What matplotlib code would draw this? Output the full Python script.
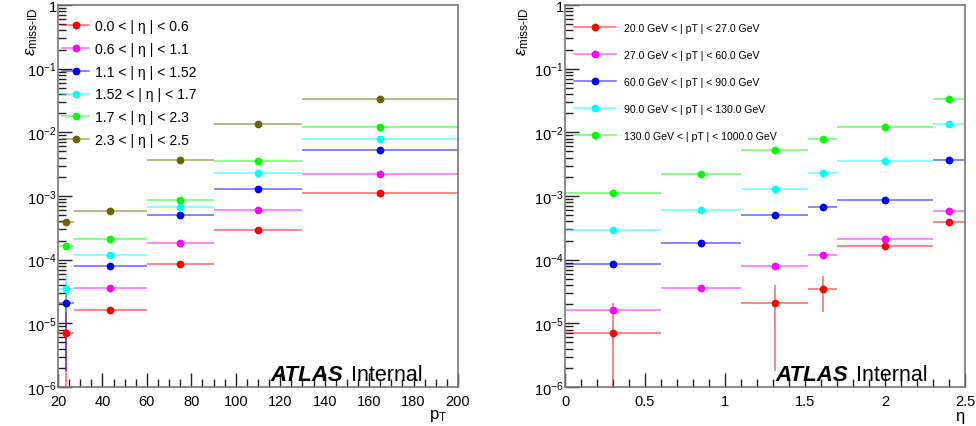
#!/usr/bin/env python3
"""miss-ID efficiency vs pT (eta slices) and vs eta (pT slices)."""
import numpy as np
import matplotlib

matplotlib.use("Agg")
import matplotlib.pyplot as plt
from matplotlib.lines import Line2D
from matplotlib.ticker import FixedLocator, FuncFormatter, LogLocator, NullFormatter

plt.rcParams["font.family"] = ["Liberation Sans", "DejaVu Sans"]
plt.rcParams["mathtext.fontset"] = "custom"
plt.rcParams["mathtext.rm"] = "Liberation Sans"
plt.rcParams["mathtext.it"] = "Liberation Sans:italic"
plt.rcParams["mathtext.bf"] = "Liberation Sans:bold"

pt_edges = [20, 27, 60, 90, 130, 200]
eta_edges = [0.0, 0.6, 1.1, 1.52, 1.7, 2.3, 2.5]

eta_labels = ["0.0 < | η | < 0.6", "0.6 < | η | < 1.1", "1.1 < | η | < 1.52",
              "1.52 < | η | < 1.7", "1.7 < | η | < 2.3", "2.3 < | η | < 2.5"]
pt_labels = ["20.0 GeV < | pT | < 27.0 GeV", "27.0 GeV < | pT | < 60.0 GeV",
             "60.0 GeV < | pT | < 90.0 GeV", "90.0 GeV < | pT | < 130.0 GeV",
             "130.0 GeV < | pT | < 1000.0 GeV"]

# rows: eta bins, cols: pT bins
nan = np.nan
eff = np.array([
    [7.0e-6, 1.6e-5, 8.7e-5, 2.9e-4, 1.13e-3],
    [nan, 3.56e-5, 1.82e-4, 6.0e-4, 2.19e-3],
    [2.08e-5, 7.9e-5, 5.1e-4, 1.3e-3, 5.2e-3],
    [3.5e-5, 1.17e-4, 6.6e-4, 2.3e-3, 8.0e-3],
    [1.63e-4, 2.13e-4, 8.6e-4, 3.5e-3, 1.23e-2],
    [3.9e-4, 5.8e-4, 3.7e-3, 1.33e-2, 3.3e-2],
])
err_lo = np.array([
    [6.95e-6, 0, 0, 0, 0],
    [0, 0, 0, 0, 0],
    [1.9e-5, 0, 0, 0, 0],
    [2.0e-5, 0, 0, 0, 0],
    [0, 0, 0, 0, 0],
    [0, 0, 0, 0, 0],
])
err_hi = np.array([
    [1.4e-5, 0, 0, 0, 0],
    [0, 0, 0, 0, 0],
    [1.9e-5, 0, 0, 0, 0],
    [2.0e-5, 0, 0, 0, 0],
    [0, 0, 0, 0, 0],
    [0, 0, 0, 0, 0],
])

colors = ["#ff0000", "#ff00ff", "#0000ff", "#00ffff", "#00ff00", "#666600"]


def draw(ax, edges, vals, lo, hi, color):
    edges = np.asarray(edges, float)
    xc = 0.5 * (edges[1:] + edges[:-1])
    xw = 0.5 * (edges[1:] - edges[:-1])
    ok = ~np.isnan(vals)
    ax.errorbar(xc[ok], vals[ok], xerr=xw[ok], yerr=[lo[ok], hi[ok]], fmt="none",
                ecolor=color, elinewidth=1.1, alpha=0.6, capsize=0, zorder=2)
    ax.plot(xc[ok], vals[ok], "o", color=color, ms=5.6, mew=0, zorder=3)


def style(ax, xlim, major, minor):
    ax.set_yscale("log")
    ax.set_ylim(1e-6, 1)
    ax.set_xlim(*xlim)
    ax.xaxis.set_major_locator(FixedLocator(major))
    ax.xaxis.set_minor_locator(FixedLocator(minor))
    ax.xaxis.set_major_formatter(FuncFormatter(lambda v, p: "%g" % round(v, 3)))
    ax.yaxis.set_major_locator(LogLocator(base=10, numticks=10))
    ax.yaxis.set_minor_locator(LogLocator(base=10, subs=np.arange(2, 10), numticks=20))
    ax.yaxis.set_minor_formatter(NullFormatter())
    ax.yaxis.set_major_formatter(FuncFormatter(
        lambda v, p: "1" if abs(v - 1) < 1e-9 else r"$10^{%d}$" % round(np.log10(v))))
    ax.tick_params(which="both", direction="in", width=1, color="#222222")
    ax.tick_params(which="major", length=10, labelsize=10.5)
    ax.tick_params(which="minor", length=5.5)
    ax.tick_params(axis="x", pad=5)
    ax.tick_params(axis="y", pad=1)
    for s in ax.spines.values():
        s.set_color("#777777")
        s.set_linewidth(1.2)


def legend(ax, labels, cols, fs, hl, pad, sp, anchor):
    handles = [(Line2D([], [], color=c, lw=1.1, alpha=0.6),
                Line2D([], [], color=c, marker="o", ms=5.6, mew=0, ls="none"))
               for c in cols]
    ax.legend(handles, labels, loc="upper left", bbox_to_anchor=anchor, frameon=False,
              fontsize=fs, handlelength=hl, handletextpad=pad, labelspacing=sp,
              borderaxespad=0)


fig = plt.figure(figsize=(9.76, 4.27), dpi=100)
ax1 = fig.add_axes([58 / 976, 1 - 388 / 427, 400 / 976, 382 / 427])
ax2 = fig.add_axes([565 / 976, 1 - 388 / 427, 400 / 976, 382 / 427])

for i in range(len(eta_labels)):
    draw(ax1, pt_edges, eff[i], err_lo[i], err_hi[i], colors[i])
for j in range(len(pt_labels)):
    draw(ax2, eta_edges, eff[:, j], err_lo[:, j], err_hi[:, j], colors[j])

style(ax1, (20, 200), np.arange(20, 201, 20), np.arange(20, 201, 5))
style(ax2, (0, 2.5), np.arange(0, 2.51, 0.5), np.arange(0, 2.51, 0.1))

legend(ax1, eta_labels, colors, 10.1, 1.87, 0.43, 0.62, (-0.003, 0.977))
legend(ax2, pt_labels, colors[:5], 7.6, 4.0, 0.75, 1.6, (0.012, 0.964))

for ax, x0 in [(ax1, 0.53), (ax2, 0.525)]:
    t = ax.text(x0, 0.018, "ATLAS", transform=ax.transAxes, fontsize=16,
                fontweight="bold", fontstyle="italic", va="baseline")
    fig.canvas.draw()
    bb = t.get_window_extent().transformed(ax.transAxes.inverted())
    ax.text(bb.x1 + 0.02, 0.018, "Internal", transform=ax.transAxes, fontsize=15.5,
            va="baseline")

ylab = r"$\epsilon_{\mathrm{miss\text{-}ID}}$"
fig.text(32 / 976, 1 - 8 / 427, ylab, rotation=90, ha="center", va="top", fontsize=12)
fig.text(523 / 976, 1 - 8 / 427, ylab, rotation=90, ha="center", va="top", fontsize=12)
fig.text(447 / 976, 1 - 424 / 427, r"$\mathrm{p}_{\mathrm{T}}$", ha="right", va="bottom", fontsize=12)
fig.text(964 / 976, 1 - 424 / 427, "η", ha="right", va="bottom", fontsize=12)

fig.savefig("out.png", dpi=100)
